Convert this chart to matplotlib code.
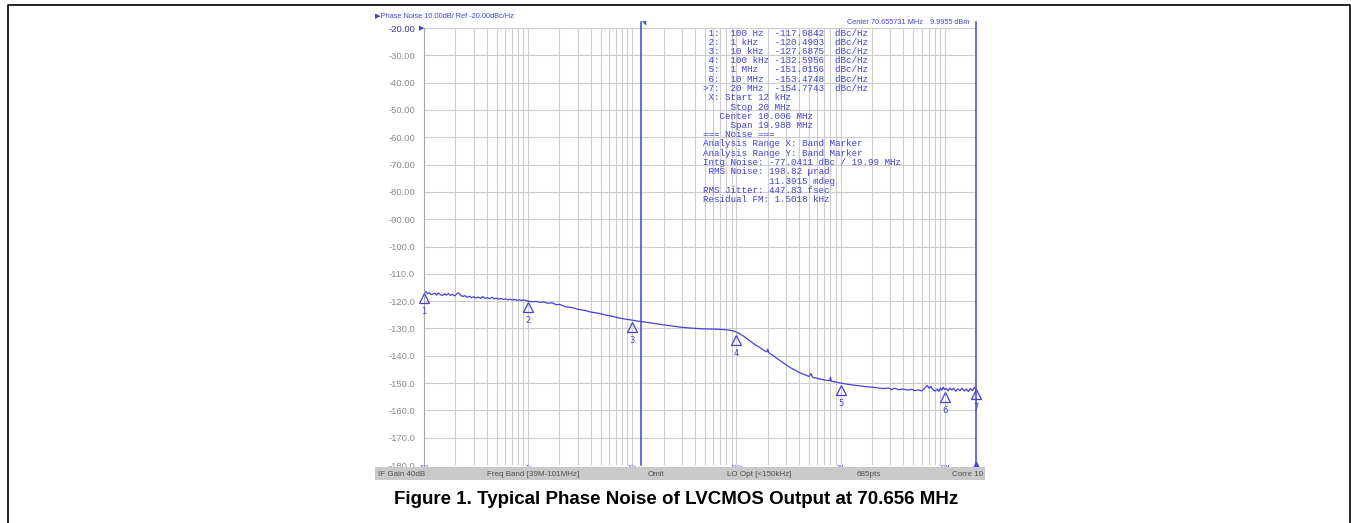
import matplotlib
matplotlib.use('Agg')
import numpy as np
import matplotlib.pyplot as plt
from matplotlib.ticker import LogLocator, NullFormatter
from matplotlib.transforms import offset_copy
from matplotlib.patches import Rectangle
from matplotlib.lines import Line2D

# trace (Hz, dBc/Hz)
freq_hz = [100, 104, 108, 112, 117, 122, 127, 132, 137, 143, 150, 157, 164, 171, 179,
           187, 196, 205, 215, 225, 236, 248, 260, 273, 287, 301, 316, 332, 349, 367,
           386, 406, 427, 449, 472, 496, 522, 549, 577, 607, 638, 671, 706, 743, 782,
           822, 865, 910, 957, 1000, 1100, 1200, 1300, 1420, 1550, 1700, 1850, 2000,
           2300, 2600, 3000, 3500, 4000, 4800, 5600, 6500, 7500, 8700, 10000, 11700,
           14000, 17000, 21000, 25000, 30000, 37000, 45000, 55000, 65000, 75000, 85000,
           95000, 106000, 118000, 132000, 148000, 165000, 183000, 196000, 200000,
           205000, 225000, 250000, 275000, 305000, 335000, 370000, 410000, 455000,
           500000, 520000, 540000, 600000, 665000, 730000, 790000, 800000, 815000,
           900000, 1.0e6, 1.15e6, 1.3e6, 1.5e6, 1.75e6, 2.0e6, 2.3e6, 2.6e6, 2.9e6,
           3.1e6, 3.3e6, 3.6e6, 4.0e6, 4.4e6, 4.8e6, 5.2e6, 5.6e6, 6.0e6, 6.4e6, 6.8e6,
           7.1e6, 7.4e6, 7.7e6, 8.1e6, 8.5e6, 8.8e6, 9.1e6, 9.4e6, 9.7e6, 1.0e7,
           1.04e7, 1.08e7, 1.12e7, 1.17e7, 1.22e7, 1.28e7, 1.34e7, 1.40e7, 1.47e7,
           1.54e7, 1.61e7, 1.69e7, 1.77e7, 1.85e7, 1.92e7, 2.0e7]
noise_dbc = [-117.0, -116.5, -117.3, -116.9, -117.6, -117.4, -117.1, -117.8, -117.0, -117.6,
             -117.9, -117.3, -117.8, -117.2, -117.9, -117.5, -118.1, -117.4, -117.0, -117.9,
             -118.3, -118.0, -118.6, -118.2, -118.8, -118.4, -118.9, -118.5, -119.0, -118.3,
             -119.0, -118.7, -119.1, -118.6, -119.2, -118.9, -119.3, -119.0, -119.4, -119.2,
             -119.5, -119.3, -119.6, -119.4, -119.7, -119.5, -119.7, -119.6, -119.8, -120.0,
             -120.2, -120.1, -120.5, -120.3, -120.8, -120.6, -121.3, -121.2, -122.1, -122.3,
             -123.0, -123.4, -124.0, -124.5, -125.1, -125.6, -126.2, -126.6, -127.0, -127.4,
             -127.8, -128.3, -128.8, -129.2, -129.6, -129.9, -130.1, -130.2, -130.3, -130.4,
             -130.6, -131.0, -131.8, -132.9, -134.3, -135.7, -136.8, -138.0, -138.6, -137.6,
             -138.9, -139.9, -141.2, -142.3, -143.5, -144.5, -145.4, -146.3, -147.0, -147.6,
             -146.5, -147.9, -148.3, -148.7, -149.0, -149.1, -147.8, -149.3, -149.6, -150.0,
             -150.4, -150.7, -151.0, -151.3, -151.5, -151.8, -152.0, -151.8, -152.4, -151.9,
             -152.4, -152.2, -152.6, -152.3, -152.8, -152.5, -152.9, -151.9, -150.9, -151.9,
             -151.2, -152.5, -152.9, -152.2, -153.0, -151.8, -152.6, -151.5, -152.4, -152.0,
             -152.9, -151.8, -152.6, -151.9, -153.0, -152.1, -152.8, -151.9, -152.9, -152.2,
             -153.1, -152.0, -152.8, -151.6, -152.3]

marker_freq = [100, 1e3, 1e4, 1e5, 1e6, 1e7, 2e7]
marker_dbc = [-117.0842, -120.4903, -127.6875, -132.5956, -151.0156, -153.4748, -154.7743]

band_start = 12e3
band_stop = 20e6

decade_ticks = [1e2, 1e3, 1e4, 1e5, 1e6, 1e7]
decade_labels = ['100', '1k', '10k', '100k', '1M', '10M']
y_ticks = list(range(-180, -19, 10))

status_items = [('IF Gain 40dB', 378, 'left'), ('Freq Band [39M-101MHz]', 487, 'left'),
                ('Omit', 648, 'left'), ('LO Opt [<150kHz]', 727, 'left'),
                ('685pts', 857, 'left'), ('Corre 10', 983, 'right')]

info_lines = [
    ' 1:  100 Hz  -117.0842  dBc/Hz',
    ' 2:  1 kHz   -120.4903  dBc/Hz',
    ' 3:  10 kHz  -127.6875  dBc/Hz',
    ' 4:  100 kHz -132.5956  dBc/Hz',
    ' 5:  1 MHz   -151.0156  dBc/Hz',
    ' 6:  10 MHz  -153.4748  dBc/Hz',
    '>7:  20 MHz  -154.7743  dBc/Hz',
    ' X: Start 12 kHz',
    '     Stop 20 MHz',
    '   Center 10.006 MHz',
    '     Span 19.988 MHz',
    '=== Noise ===',
    'Analysis Range X: Band Marker',
    'Analysis Range Y: Band Marker',
    'Intg Noise: -77.0411 dBc / 19.99 MHz',
    ' RMS Noise: 198.82 \u00b5rad',
    '            11.3915 mdeg',
    'RMS Jitter: 447.83 fsec',
    'Residual FM: 1.5018 kHz',
]

W, H = 1351, 523
BLUE = '#4343d0'
GRID = '#cdcdcd'
SANS = ['Liberation Sans', 'DejaVu Sans']
MONO = ['Liberation Mono', 'DejaVu Sans Mono']


def fx(px):
    return px / W


def fy(py):
    return 1 - py / H


fig = plt.figure(figsize=(W / 100, H / 100), dpi=100)
ax = fig.add_axes([fx(424), fy(465), fx(976) - fx(424), fy(28) - fy(465)])

ax.plot(freq_hz, noise_dbc, color=BLUE, lw=0.9)
ax.set_xscale('log')
ax.set_xlim(100, 2e7)
ax.set_ylim(-180, -20)
ax.set_xticks(decade_ticks)
ax.xaxis.set_minor_locator(LogLocator(base=10, subs=range(2, 10)))
ax.xaxis.set_minor_formatter(NullFormatter())
ax.set_xticklabels([])
ax.set_yticks(y_ticks)
ax.set_yticklabels([f'{v:.2f}' if v > -100 else f'{v:.1f}' for v in y_ticks],
                   fontsize=6.8, family=SANS, color='#8a8a8a')
ax.get_yticklabels()[-1].set_color('#3a3a9a')
ax.tick_params(which='both', length=0, pad=6.5)
ax.grid(which='both', color=GRID, lw=0.8)
for s in ['top', 'right', 'bottom']:
    ax.spines[s].set_visible(False)
ax.spines['left'].set_color('#a8a8a8')
ax.spines['left'].set_linewidth(0.8)

# band marker lines
ax.axvline(band_start, ymin=0, ymax=1.014, color=BLUE, lw=1.1, clip_on=False)
ax.axvline(band_stop, ymin=0, ymax=1.014, color=BLUE, lw=1.1, clip_on=False)
fig.text(fx(642), fy(24), '\u25e5', color=BLUE, fontsize=4, ha='left', va='center')
ax.plot([band_stop], [-180], marker='^', color=BLUE, ms=5, clip_on=False, zorder=5)

# markers
tri_tr = offset_copy(ax.transData, fig=fig, x=0, y=-4.5, units='dots')
for i, (f, v) in enumerate(zip(marker_freq, marker_dbc)):
    if i == 6:
        v = noise_dbc[-1]
    ax.plot([f], [v], marker='^', ms=6.5, mfc='none', mec=BLUE, mew=0.9,
            transform=tri_tr, clip_on=False, zorder=6)
    ax.annotate(str(i + 1), (f, v), xytext=(0, -13), textcoords='offset points',
                ha='center', va='center', fontsize=6, color=BLUE, annotation_clip=False)

# tiny decade labels along the bottom
for f, lab in zip(decade_ticks, decade_labels):
    ax.annotate(lab, (f, -180), xytext=(0, -1.5), textcoords='offset points',
                ha='center', va='center', fontsize=3.5, color=BLUE, annotation_clip=False)

# header texts
fig.text(fx(375), fy(16), '\u25b6Phase Noise 10.00dB/ Ref -20.00dBc/Hz', color=BLUE,
         fontsize=5.3, family=SANS, va='center', ha='left')
fig.text(fx(419), fy(28), '\u25b6', color=BLUE, fontsize=5, va='center', ha='left')
fig.text(fx(847), fy(23), 'Center 70.655731 MHz', color=BLUE, fontsize=5.3,
         family=SANS, va='center', ha='left')
fig.text(fx(930), fy(23), '9.9955 dBm', color=BLUE, fontsize=5.3,
         family=SANS, va='center', ha='left')

for i, line in enumerate(info_lines):
    fig.text(fx(703), fy(33 + 9.25 * i), line, color=BLUE, fontsize=6.7,
             family=MONO, va='center', ha='left')

# status bar
fig.patches.append(Rectangle((fx(375), fy(480)), fx(985) - fx(375), fy(467) - fy(480),
                             transform=fig.transFigure, facecolor='#c9c9c9',
                             edgecolor='none', zorder=0))
for txt, px, ha in status_items:
    fig.text(fx(px), fy(474), txt, fontsize=5.8, family=SANS,
             color='#505050', ha=ha, va='center')

fig.text(fx(676), fy(500), 'Figure 1. Typical Phase Noise of LVCMOS Output at 70.656 MHz',
         fontsize=13.5, fontweight='bold', family=SANS, ha='center', va='center')

# outer frame
fig.lines.append(Line2D([fx(8), fx(8), fx(1350), fx(1350)], [0, fy(5), fy(5), 0],
                        transform=fig.transFigure, color='black', lw=1.2))

fig.savefig('out.png', dpi=100)
